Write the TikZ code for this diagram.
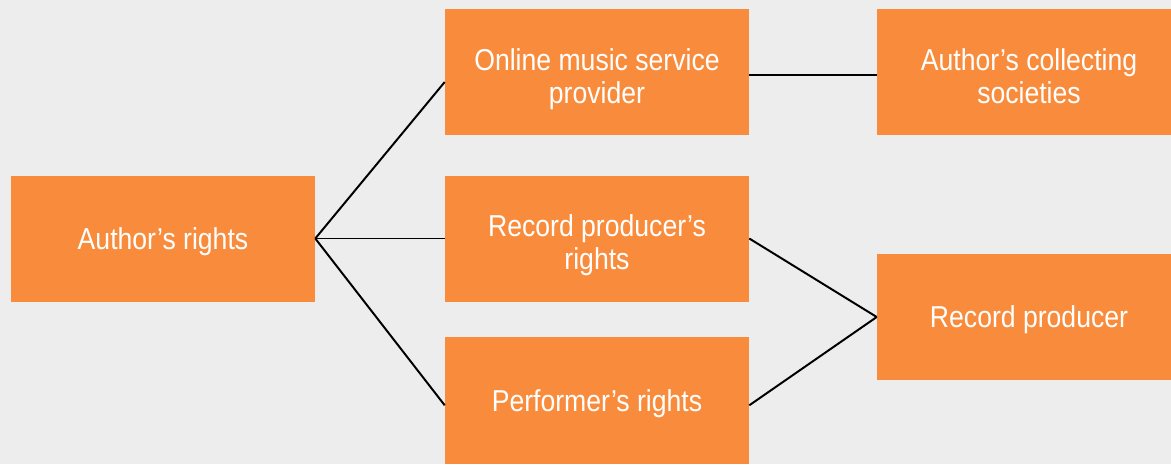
\documentclass[tikz,border=0pt]{standalone}
\usepackage{fontspec}
\setmainfont[FakeStretch=0.88]{Liberation Sans}
\usepackage{xcolor}
\usepackage{tikz}
\usetikzlibrary{positioning,calc}
\definecolor{boxorange}{HTML}{F98C3C}
\definecolor{pagebg}{HTML}{EDEDED}
\tikzset{
  box/.style={fill=boxorange,draw=none,align=center,text=white,minimum width=7.6cm,minimum height=3.15cm,inner sep=2pt,font=\fontsize{21.5}{23.6}\selectfont,text height=20pt},
  twoline/.style={text height=49pt},
  ln/.style={line width=1.4pt,black},
}

\begin{document}
\begin{tikzpicture}
  \fill[pagebg] (0,0) rectangle (29.275,-11.6);
  \useasboundingbox (0,0) rectangle (29.275,-11.6);
  \node[box] (auth) at (4.075,-5.9625) {Author’s rights};
  \node[box,twoline] (online) at (14.925,-1.8) {Online music service\\provider};
  \node[box,twoline] (rpr) at (14.925,-5.9625) {Record producer’s\\rights};
  \node[box,minimum height=3.175cm] (perf) at (14.925,-10.0125) {Performer’s rights};
  \node[box,twoline,text height=45pt] (coll) at (25.725,-1.8) {Author’s collecting\\societies};
  \node[box] (rp) at (25.725,-7.925) {Record producer};
  \draw[ln] (auth.east) -- ($(online.west)+(0,-0.25)$);
  \draw[ln] (auth.east) -- (rpr.west);
  \draw[ln] (auth.east) -- ($(perf.west)+(0,-0.12)$);
  \draw[ln] ($(online.east)+(0,-0.075)$) -- ($(coll.west |- online.east)+(0,-0.075)$);
  \draw[ln] (rpr.east) -- (rp.west);
  \draw[ln] ($(perf.east)+(0,-0.12)$) -- (rp.west);
\end{tikzpicture}
\end{document}
